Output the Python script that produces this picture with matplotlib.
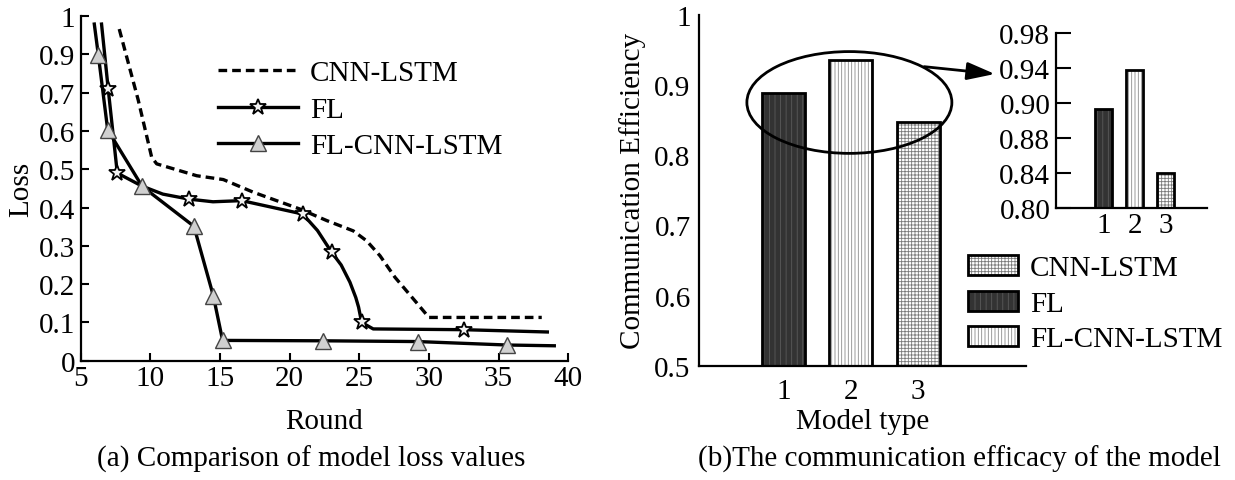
import numpy as np
import matplotlib
matplotlib.use("Agg")
import matplotlib.pyplot as plt
from matplotlib.patches import Ellipse, Patch

plt.rcParams['font.family'] = ['Liberation Serif', 'DejaVu Serif']
plt.rcParams['font.size'] = 21
plt.rcParams['hatch.linewidth'] = 0.6

# (a) loss curves, y values in the units printed on the axis
cnn_x = [7.77, 9.13, 10.1, 10.46, 13.33, 15.24, 17.39, 20.74, 22.66, 24.57, 25.53, 26.49, 27.56, 29.1, 30.0, 38.1]
cnn_y = [0.966, 0.681, 0.531, 0.514, 0.483, 0.473, 0.44, 0.396, 0.366, 0.339, 0.313, 0.274, 0.218, 0.152, 0.113, 0.113]

fl_x = [6.5, 6.98, 7.63, 9.4, 10.9, 12.77, 14.5, 16.56, 20.94, 22.0, 23.02, 23.7, 24.33, 24.75, 24.95, 25.17, 26.0, 32.5, 38.5]
fl_y = [0.979, 0.718, 0.49, 0.456, 0.435, 0.422, 0.415, 0.418, 0.383, 0.34, 0.283, 0.25, 0.205, 0.165, 0.14, 0.1, 0.083, 0.081, 0.075]
fl_marks = [1, 2, 5, 7, 8, 10, 15, 17]

fcl_x = [5.98, 6.27, 6.94, 7.34, 9.42, 13.13, 14.52, 15.19, 22.37, 29.2, 35.6, 39.0]
fcl_y = [0.979, 0.896, 0.603, 0.579, 0.455, 0.351, 0.17, 0.053, 0.052, 0.05, 0.041, 0.039]
fcl_marks = [1, 2, 4, 5, 6, 7, 8, 9, 10]

loss_ticks = [0, 0.1, 0.2, 0.3, 0.4, 0.5, 0.6, 0.7, 0.9, 1.0]
loss_tick_labels = ['0', '0.1', '0.2', '0.3', '0.4', '0.5', '0.6', '0.7', '0.9', '1']
round_ticks = [5, 10, 15, 20, 25, 30, 35, 40]

# (b) communication efficiency
models = [1, 2, 3]
eff_fl = 0.888
eff_fcl = 0.936
eff_cnn = 0.847
zoom_fl = 0.8966
zoom_fcl = 0.9376
zoom_cnn = 0.8408
zoom_ticks = [0.80, 0.84, 0.88, 0.90, 0.94, 0.98]


def even_scale(ticks):
    pos = np.arange(len(ticks), dtype=float)
    return (lambda v: np.interp(v, ticks, pos), lambda p: np.interp(p, pos, ticks))


fig = plt.figure(figsize=(12.35, 4.81), dpi=100)

# ---------- (a)
ax = fig.add_axes([0.0653, 0.248, 0.3948, 0.7166])
ax.set_yscale('function', functions=even_scale(loss_ticks))
ax.plot(cnn_x, cnn_y, color='black', lw=2.4, dashes=(2.6, 1.5), label='CNN-LSTM')
ax.plot(fl_x, fl_y, color='black', lw=2.4, marker='*', markevery=fl_marks, ms=12,
        mfc='#f2f2f2', mec='black', mew=1.3, label='FL')
ax.plot(fcl_x, fcl_y, color='black', lw=2.4, marker='^', markevery=fcl_marks, ms=11,
        mfc='#d0d0d0', mec='#444444', mew=1.0, label='FL-CNN-LSTM')
ax.set_xlim(5, 40)
ax.set_ylim(0, 1.0)
ax.set_xticks(round_ticks)
ax.set_yticks(loss_ticks)
ax.set_yticklabels(loss_tick_labels)
ax.tick_params(direction='in', length=6, width=1.5, pad=3)
ax.tick_params(axis='y', pad=4)
for s in ['top', 'right']:
    ax.spines[s].set_visible(False)
for s in ['left', 'bottom']:
    ax.spines[s].set_linewidth(1.6)
ax.set_xlabel('Round', labelpad=12)
ax.set_ylabel('Loss', labelpad=3)
ax.legend(loc='center left', bbox_to_anchor=(0.1765, 0.77), bbox_transform=fig.transFigure,
          frameon=False, borderpad=0, borderaxespad=0, handlelength=2.74, handletextpad=0.41,
          labelspacing=0.35)

# ---------- (b)
bx = fig.add_axes([0.566, 0.2376, 0.2648, 0.7297])
styles = {
    'FL': dict(facecolor='#333333', hatch='|||', edgecolor='#5a5a5a'),
    'FL-CNN-LSTM': dict(facecolor='white', hatch='|||||', edgecolor='#8a8a8a'),
    'CNN-LSTM': dict(facecolor='white', hatch='+++++', edgecolor='#7a7a7a'),
}
main_vals = {'FL': eff_fl, 'FL-CNN-LSTM': eff_fcl, 'CNN-LSTM': eff_cnn}
for m, name in zip(models, ['FL', 'FL-CNN-LSTM', 'CNN-LSTM']):
    bx.bar(m, main_vals[name] - 0.5, bottom=0.5, width=0.64, lw=0, **styles[name])
    bx.bar(m, main_vals[name] - 0.5, bottom=0.5, width=0.64, fill=False, edgecolor='black', lw=2)
bx.set_xlim(-0.25, 4.6)
bx.set_ylim(0.5, 1.0)
bx.set_xticks(models)
bx.set_yticks([0.5, 0.6, 0.7, 0.8, 0.9, 1.0])
bx.set_yticklabels(['0.5', '0.6', '0.7', '0.8', '0.9', '1'])
bx.set_yticks([1.0], minor=True)
bx.tick_params(length=0, pad=6)
bx.tick_params(axis='x', pad=9)
bx.tick_params(axis='y', which='minor', direction='in', length=7, width=1.5)
for s in ['top', 'right']:
    bx.spines[s].set_visible(False)
for s in ['left', 'bottom']:
    bx.spines[s].set_linewidth(1.6)
bx.set_xlabel('Model type', labelpad=3)
bx.set_ylabel('Communication Efficiency', labelpad=6)

bx.add_patch(Ellipse((1.98, 0.875), 3.04, 0.145, fill=False, edgecolor='black', lw=2, zorder=5))

# inset
ix = fig.add_axes([0.855, 0.5649, 0.122, 0.3645])
ix.set_yscale('function', functions=even_scale(zoom_ticks))
zoom_vals = {'FL': zoom_fl, 'FL-CNN-LSTM': zoom_fcl, 'CNN-LSTM': zoom_cnn}
for m, name in zip(models, ['FL', 'FL-CNN-LSTM', 'CNN-LSTM']):
    ix.bar(m, zoom_vals[name] - 0.8, bottom=0.8, width=0.56, lw=0, **styles[name])
    ix.bar(m, zoom_vals[name] - 0.8, bottom=0.8, width=0.56, fill=False, edgecolor='black', lw=2)
ix.set_xlim(-0.54, 4.32)
ix.set_ylim(0.80, 0.98)
ix.set_xticks(models)
ix.set_yticks(zoom_ticks)
ix.set_yticklabels(['%.2f' % t for t in zoom_ticks])
ix.tick_params(axis='x', length=0, pad=3)
ix.tick_params(axis='y', direction='in', length=11, width=1.5, pad=4)
for s in ['top', 'right']:
    ix.spines[s].set_visible(False)
for s in ['left', 'bottom']:
    ix.spines[s].set_linewidth(1.6)

bx.annotate('', xy=(-0.405, 0.766), xycoords=ix.transAxes, xytext=(3.09, 0.926), textcoords='data',
            arrowprops=dict(arrowstyle='-|>,head_length=0.85,head_width=0.27', mutation_scale=20,
                            color='black', lw=2, shrinkA=0, shrinkB=0), annotation_clip=False)

handles = [(Patch(lw=0, **styles[n]), Patch(fill=False, edgecolor='black', lw=2))
           for n in ['CNN-LSTM', 'FL', 'FL-CNN-LSTM']]
fig.legend(handles, ['CNN-LSTM', 'FL', 'FL-CNN-LSTM'], loc='center left',
           bbox_to_anchor=(0.7838, 0.3665), frameon=False, borderpad=0, borderaxespad=0,
           handlelength=1.71, handleheight=0.68, handletextpad=0.41, labelspacing=0.32)

fig.text(0.252, 0.044, '(a) Comparison of model loss values', ha='center', va='center')
fig.text(0.7765, 0.044, '(b)The communication efficacy of the model', ha='center', va='center')

fig.savefig('out.png', dpi=100)
